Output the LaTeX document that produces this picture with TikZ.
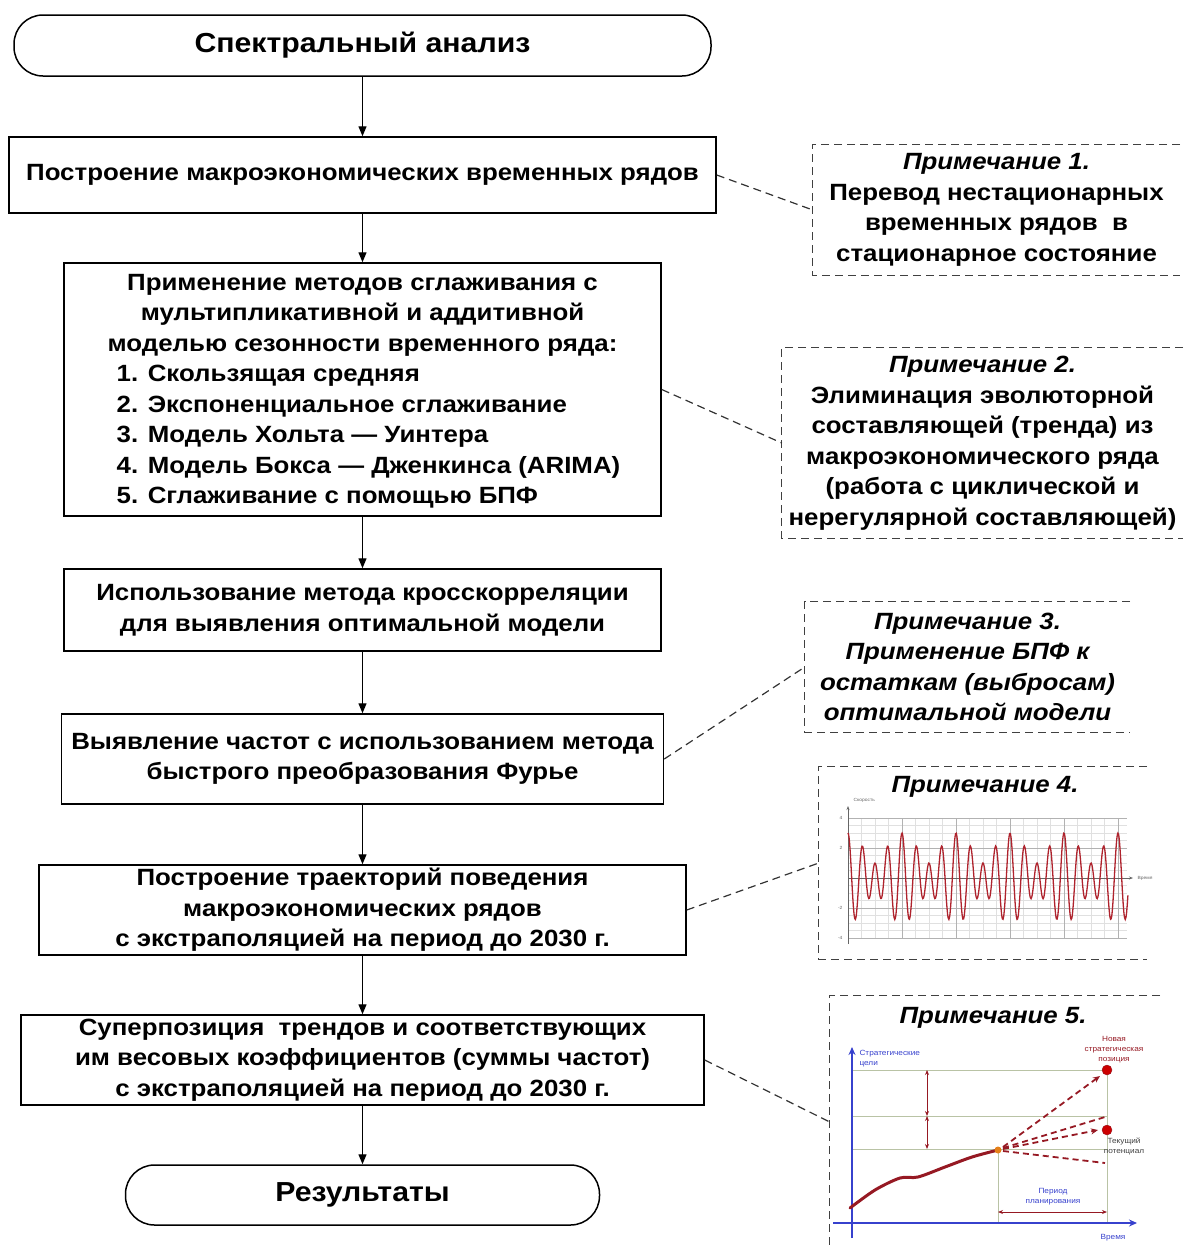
\documentclass[tikz,border=0pt]{standalone}
\usepackage{fontspec}
\setmainfont{Liberation Sans}[FakeStretch=1.1]
\usetikzlibrary{arrows.meta}

\definecolor{wave}{RGB}{175,35,45}
\definecolor{axblue}{RGB}{55,65,205}
\definecolor{gline}{RGB}{185,195,165}
\definecolor{dred}{RGB}{150,25,35}

\begin{document}
\begin{tikzpicture}[
  x=1pt, y=-1pt, >={Triangle[length=10pt,width=8pt]},
  font=\fontsize{23.5}{30.5}\selectfont\bfseries,
  box/.style={draw=black, line width=1.5pt, align=center, inner sep=0pt},
  term/.style={box, rounded corners=29pt, font=\fontsize{27.5}{30}\selectfont\bfseries},
  note/.style={align=center, inner sep=0pt},
  nbrd/.style={draw=black!75, line width=1.3pt, dash pattern=on 8pt off 5pt},
  link/.style={draw=black!80, line width=1.2pt, dash pattern=on 8pt off 5pt},
  arr/.style={->, line width=1.3pt},
  ttl/.style={font=\fontsize{23.5}{30.5}\selectfont\bfseries\itshape},
  lbl/.style={font=\fontsize{7.5}{10}\selectfont\mdseries, align=center},
  tck/.style={font=\fontsize{4.5}{5}\selectfont\mdseries, text=black!60},
  dblarr/.style={dred, line width=0.9pt, {Stealth[length=5pt,width=4pt]}-{Stealth[length=5pt,width=4pt]}},
  fan/.style={dred, line width=1.8pt, dash pattern=on 6pt off 4pt},
]
\useasboundingbox (0,0) rectangle (1185,1248);

%% ====================================================
%% Flowchart
%% ====================================================
\node[term, minimum width=697pt, minimum height=61pt] (start) at (362.5,45.5) {Спектральный анализ};
\node[box, minimum width=707pt, minimum height=76pt] (b1) at (362.5,175) {Построение макроэкономических временных рядов};
\node[box, minimum width=597pt, minimum height=253pt] (b2) at (362.5,389.5) {Применение методов сглаживания с\\мультипликативной и аддитивной\\моделью сезонности временного ряда:\\
  \hspace*{12pt}\begin{tabular}[t]{@{}l@{}}1. Скользящая средняя\\2. Экспоненциальное сглаживание\\3. Модель Хольта — Уинтера\\4. Модель Бокса — Дженкинса (ARIMA)\\5. Сглаживание с помощью БПФ\\[-8pt]\end{tabular}};
\node[box, minimum width=597pt, minimum height=82pt] (b3) at (362.5,610) {Использование метода кросскорреляции\\для выявления оптимальной модели};
\node[box, minimum width=602pt, minimum height=90pt] (b4) at (362.5,759) {Выявление частот с использованием метода\\быстрого преобразования Фурье};
\node[box, minimum width=647pt, minimum height=90pt] (b5) at (362.5,910) {Построение траекторий поведения\\макроэкономических рядов\\с экстраполяцией на период до 2030 г.};
\node[box, minimum width=683pt, minimum height=90pt] (b6) at (362.5,1060) {Суперпозиция~ трендов и соответствующих\\им весовых коэффициентов (суммы частот)\\с экстраполяцией на период до 2030 г.};
\node[term, minimum width=474pt, minimum height=60pt] (stop) at (362.5,1195) {Результаты};

\foreach \a/\b in {start/b1,b1/b2,b2/b3,b3/b4,b4/b5,b5/b6,b6/stop} {
  \draw[arr] (\a.south) -- (\b.north);
}

%% ====================================================
%% Notes
%% ====================================================
\node[note, minimum width=367pt, minimum height=130pt] (n1) at (996.5,210) {{\itshape Примечание 1.}\\Перевод нестационарных\\временных рядов~ в\\стационарное состояние};
\node[note, minimum width=401pt, minimum height=190pt] (n2) at (982.5,443) {{\itshape Примечание 2.}\\Элиминация эволюторной\\составляющей (тренда) из\\макроэкономического ряда\\(работа с циклической и\\нерегулярной составляющей)};
\node[note, font=\fontsize{23.5}{30.5}\selectfont\bfseries\itshape, minimum width=325pt, minimum height=130pt] (n3) at (967.5,667) {Примечание 3.\\Применение БПФ к\\остаткам (выбросам)\\оптимальной модели};
\node[note, minimum width=328pt, minimum height=192pt] (n4) at (983,863) {};
\node[note, minimum width=330pt, minimum height=252pt] (n5) at (995,1122) {};
\node[ttl] (t4) at (985,787) {Примечание 4.};
\node[ttl] (t5) at (993,1018) {Примечание 5.};

\foreach \n in {n1,n2,n3,n4} {
  \draw[nbrd] (\n.north east) -- (\n.north west) -- (\n.south west) -- (\n.south east);
}
\draw[nbrd] (n5.north east) -- (n5.north west) -- (n5.south west);

\foreach \a/\b in {b1/n1,b2/n2,b4/n3,b5/n4,b6/n5} {
  \draw[link] (\a.east) -- (\b.west);
}

%% ---- Note 4: oscillation plot ----
\foreach \i in {0,...,20} {
  \draw[black!12, line width=0.4pt] ({848+13.5*\i},818) -- ({848+13.5*\i},938);
}
\foreach \j in {0,...,16} {
  \draw[black!12, line width=0.4pt] (848,{818+7.5*\j}) -- (1127,{818+7.5*\j});
}
\foreach \i in {0,...,5} {
  \draw[black!30, line width=0.5pt] ({848+54*\i},818) -- ({848+54*\i},938);
}
\foreach \j in {0,...,4} {
  \draw[black!30, line width=0.5pt] (848,{818+30*\j}) -- (1127,{818+30*\j});
}
\draw[black!60, line width=0.6pt, -{Stealth[length=4pt]}] (848,944) -- (848,806);
\draw[black!60, line width=0.6pt, -{Stealth[length=4pt]}] (848,878) -- (1133,878);
\foreach \v/\yy in {4/818,2/848,-2/908,-4/938} {
  \node[tck, anchor=east] at (846,\yy) {\v};
}
\node[tck, anchor=south west] at (850,806) {Скорость};
\node[tck, anchor=west] at (1134,878) {Время};
\draw[wave, line width=1.3pt] plot[domain=0:20.74, samples=420, smooth]
  ({848+13.5*\x}, {878-15*(2*cos(\x*360)+cos(\x*270))});

%% ---- Note 5: planning chart ----
\foreach \yy in {1070,1116,1149} {
  \draw[gline, line width=1pt] (852,\yy) -- (1107,\yy);
}
\draw[gline, line width=1pt] (998,1149) -- (998,1223);
\draw[gline, line width=1pt] (1107,1070) -- (1107,1223);
\draw[dblarr] (927,1070) -- (927,1116);
\draw[dblarr] (927,1116) -- (927,1149);
\draw[dblarr] (998,1212) -- (1107,1212);
\draw[axblue, line width=2pt, -{Stealth[length=8pt,width=7pt]}] (852,1238) -- (852,1047);
\draw[axblue, line width=2pt, -{Stealth[length=8pt,width=7pt]}] (833,1223) -- (1137,1223);
\draw[dred, line width=3pt, line cap=round] plot[smooth] coordinates
  {(850,1208) (875,1190) (900,1178) (918,1177) (945,1167) (972,1157) (998,1150)};
\draw[fan, -{Stealth[length=7pt,width=6pt]}] (1003,1147) -- (1100,1076);
\draw[fan] (1003,1148) -- (1105,1117);
\draw[fan, -{Stealth[length=7pt,width=6pt]}] (1003,1149) -- (1098,1130);
\draw[fan] (1003,1151) -- (1105,1163);
\fill[orange!60!brown] (998,1150) circle (3.5pt);
\filldraw[fill=red!80!black, draw=dred] (1107,1070) circle (5pt);
\filldraw[fill=red!80!black, draw=dred] (1107,1130) circle (5pt);
\node[lbl, text=axblue, align=left, anchor=west] at (856,1059) {Стратегические\\цели};
\node[lbl, text=axblue] at (1113,1238) {Время};
\node[lbl, text=dred] at (1114,1050) {Новая\\стратегическая\\позиция};
\node[lbl, text=black!75] at (1124,1146) {Текущий\\потенциал};
\node[lbl, text=axblue] at (1053,1197) {Период\\планирования};

\end{tikzpicture}
\end{document}
